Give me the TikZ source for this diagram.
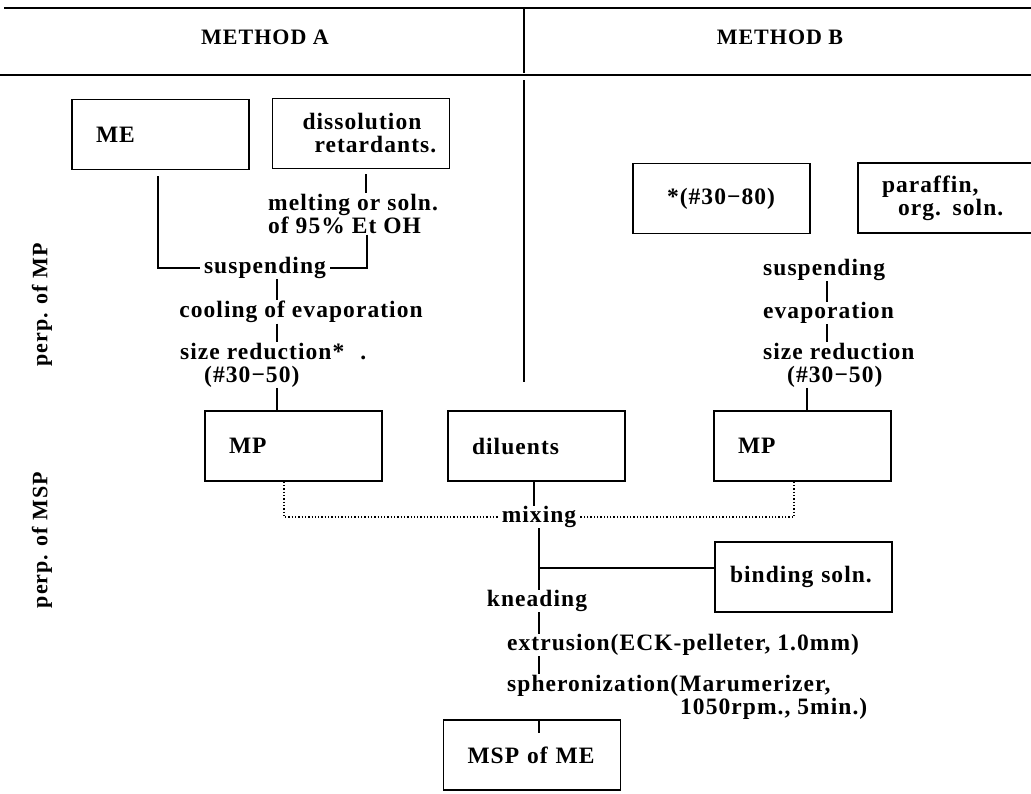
\documentclass[tikz,border=0pt]{standalone}
\usepackage{fontspec}
\setmainfont{Liberation Serif}[LetterSpace=4.5]
\usetikzlibrary{calc}
\begin{document}
\begin{tikzpicture}[x=1pt,y=-1pt,
  every node/.style={font=\fontsize{23.5}{23}\selectfont\bfseries},
  box/.style={draw, line width=1.6pt, minimum width=177pt, minimum height=70pt,
    inner xsep=24pt, text width=129pt, align=left},
  lbl/.style={inner xsep=4pt, inner ysep=0.5pt, align=left},
  hd/.style={font=\fontsize{22}{22}\selectfont\bfseries},
  ln/.style={line width=1.5pt},
  dln/.style={line width=1.3pt, dotted}]
\useasboundingbox (0,0) rectangle (1031,793);
% header
\coordinate (tl) at (4,8);  \coordinate (tr) at (1031,8);
\coordinate (bl) at (0,75); \coordinate (br) at (1031,75);
\coordinate (d1) at (524,8); \coordinate (d2) at (524,73);
\coordinate (d3) at (524,80); \coordinate (d4) at (524,382);
\draw[ln] (tl) -- (tr);
\draw[ln] (bl) -- (br);
\draw[ln] (d1) -- (d2);
\draw[ln] (d3) -- (d4);
\node[hd] (ma) at (265,37) {METHOD A};
\node[hd] (mb) at (780,37) {METHOD B};
% side labels
\node[hd, rotate=90] (pmp) at (42,305) {perp. of MP};
\node[hd, rotate=90] (pmsp) at (42,540) {perp. of MSP};
% boxes
\node[box] (me) at (160.5,134.5) {ME};
\node[box, inner xsep=12pt, text width=153pt] (diss) at (361,133.5) {\hspace*{18pt}dissolution\\\hspace*{30pt}retardants.};
\node[box, inner xsep=34pt, text width=109pt] (star) at (721.5,198.5) {*(\#30−80)};
\node[box] (par) at (946.5,198) {paraffin,\\\hspace*{16pt}org. soln.};
\node[box] (mpa) at (293.5,446) {MP};
\node[box] (dil) at (536.5,446) {diluents};
\node[box] (mpb) at (802.5,446) {MP};
\node[box, inner xsep=15pt, text width=147pt] (bind) at (803.5,577) {binding soln.};
\node[box] (msp) at (532,755) {MSP of ME};
% method A steps
\node[lbl, anchor=west] (melt) at (264,214) {melting or soln.\\of 95\% Et OH};
\node[lbl] (susa) at (265,268) {suspending};
\node[lbl] (cool) at (301,312) {cooling of evaporation};
\node[lbl, anchor=west] (sza) at (176,365) {size reduction*\hspace{16pt}.\\\hspace*{24pt}(\#30−50)};
% method B steps
\node[lbl, anchor=west] (susb) at (759,270) {suspending};
\node[lbl, anchor=west] (evb) at (759,313) {evaporation};
\node[lbl, anchor=west] (szb) at (759,365) {size reduction\\\hspace*{24pt}(\#30−50)};
% common
\node[lbl] (mix) at (539,517) {mixing};
\node[lbl] (knd) at (537,601) {kneading};
\node[lbl, anchor=west] (ext) at (503,645) {extrusion(ECK-pelleter, 1.0mm)};
\node[lbl, anchor=west] (sph) at (503,697) {spheronization(Marumerizer,\\\hspace*{173pt}1050rpm., 5min.)};
% x positions
\coordinate (xme) at (158,0);
\coordinate (xdi) at (366,0);
\coordinate (xa) at (277,0);
\coordinate (xb) at (827,0);
\coordinate (xb2) at (807,0);
\coordinate (xda) at (284,0);
\coordinate (xdb) at (794,0);
\coordinate (xdl) at (534,0);
\coordinate (xc) at (539,0);
\coordinate (ybind) at (0,568);
% method A connectors
\draw[ln] ([yshift=-6pt]xme |- me.south) |- (susa.west);
\draw[ln] ([yshift=-5pt]xdi |- diss.south) -- (xdi |- melt.north);
\draw[ln] ([xshift=1pt]xdi |- melt.south) |- (susa.east);
\draw[ln] (xa |- susa.south) -- (xa |- cool.north);
\draw[ln] (xa |- cool.south) -- (xa |- sza.north);
\draw[ln] (xa |- sza.south) -- (xa |- mpa.north);
% method B connectors
\draw[ln] (xb |- susb.south) -- (xb |- evb.north);
\draw[ln] (xb |- evb.south) -- (xb |- szb.north);
\draw[ln] (xb2 |- szb.south) -- (xb2 |- mpb.north);
% mixing
\draw[dln] (xda |- mpa.south) |- (mix.west);
\draw[dln] (xdb |- mpb.south) |- (mix.east);
\draw[ln] (xdl |- dil.south) -- (xdl |- mix.north);
\draw[ln] (xc |- mix.south) -- (xc |- knd.north);
\draw[ln] (bind.west |- ybind) -- (xc |- ybind);
\draw[ln] (xc |- knd.south) -- (xc |- ext.north);
\draw[ln] (xc |- ext.south) -- (xc |- sph.north);
\draw[ln] ([yshift=-13pt]xc |- sph.south) -- (xc |- msp.north);
\end{tikzpicture}
\end{document}
